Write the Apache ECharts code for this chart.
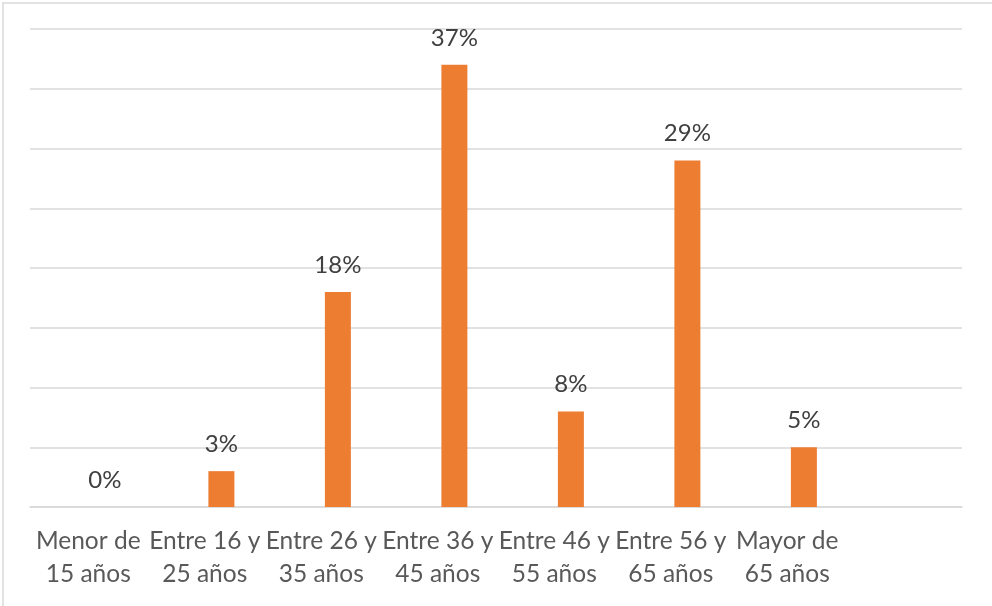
<!DOCTYPE html>
<html>
<head>
<meta charset="utf-8">
<script src="https://cdn.jsdelivr.net/npm/echarts@6/dist/echarts.min.js"></script>
<style>
    html, body { margin: 0; padding: 0; background: #fff; }
    #chart { width: 992px; height: 606px; }
</style>
</head>
<body>
<div id="chart"></div>
<script>
// age groups (last slot is an empty category, as in the source sheet)
const categories = [
    'Menor de 15 años',
    'Entre 16 y 25 años',
    'Entre 26 y 35 años',
    'Entre 36 y 45 años',
    'Entre 46 y 55 años',
    'Entre 56 y 65 años',
    'Mayor de 65 años',
    ''
]
// share of respondents, %
const shares = [0, 3, 18, 37, 8, 29, 5, null]
// first series of the cluster is empty in the original
const emptySeries = categories.map(() => null)

const yMin = 0
const yMax = 40
const yStep = 5

const chart = echarts.init(document.getElementById('chart'))

const twoLines = (v) => {
    if (!v) return ''
    const w = v.split(' ')
    return w.slice(0, -2).join(' ') + '\n' + w.slice(-2).join(' ')
}

chart.setOption({
    animation: false,
    backgroundColor: '#fff',
    textStyle: { fontFamily: 'Lato, sans-serif' },
    graphic: [{
        type: 'rect',
        left: 0.5,
        top: 0.5,
        shape: { width: 990, height: 604 },
        style: { fill: 'none', stroke: '#d9d9d9', lineWidth: 1.5 },
        silent: true
    }],
    grid: { left: 30, right: 30, top: 29, bottom: 99 },
    xAxis: {
        type: 'category',
        data: categories,
        axisLine: { lineStyle: { color: '#d9d9d9', width: 1.5 } },
        axisTick: { show: false },
        axisLabel: {
            interval: 0,
            margin: 18,
            color: '#595959',
            fontSize: 24.5,
            lineHeight: 33,
            formatter: twoLines
        }
    },
    yAxis: {
        type: 'value',
        min: yMin,
        max: yMax,
        interval: yStep,
        axisLabel: { show: false },
        axisLine: { show: false },
        axisTick: { show: false },
        splitLine: { lineStyle: { color: '#d9d9d9', width: 1.5 } }
    },
    series: [
        {
            type: 'bar',
            data: emptySeries,
            barWidth: 26,
            barGap: '28%',
            itemStyle: { color: '#5b9bd5' }
        },
        {
            type: 'bar',
            data: shares,
            barWidth: 26,
            barGap: '28%',
            itemStyle: { color: '#ed7d31' },
            label: {
                show: true,
                position: 'top',
                distance: 15,
                color: '#404040',
                fontSize: 24,
                formatter: (p) => p.value == null ? '' : Math.round(p.value) + '%'
            }
        }
    ]
})
</script>
</body>
</html>
